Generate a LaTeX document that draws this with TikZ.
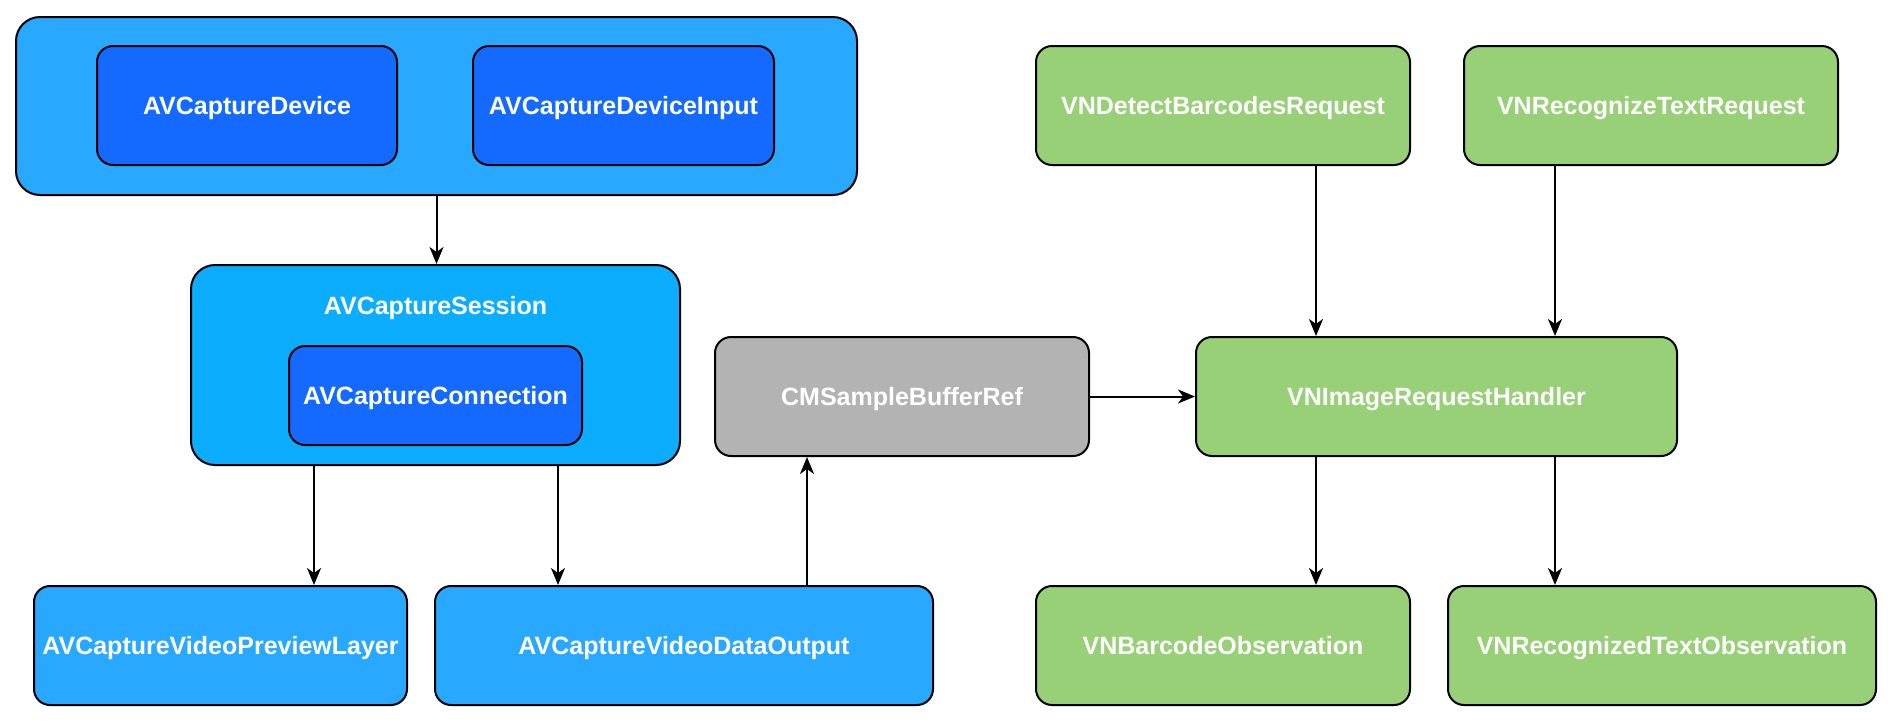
\documentclass[tikz,border=0pt]{standalone}
\usepackage{fontspec}
\setmainfont{Liberation Sans}
\usetikzlibrary{arrows.meta,calc}
\definecolor{outerblue}{HTML}{29A8FF}
\definecolor{sessblue}{HTML}{0CACFF}
\definecolor{innerblue}{HTML}{1469FF}
\definecolor{boxgray}{HTML}{B3B3B3}
\definecolor{boxgreen}{HTML}{97D077}
\tikzset{
  box/.style={draw=black, line width=2pt, rounded corners=16pt, inner sep=0pt,
    minimum height=119pt, text=white, text height=18pt, text depth=-2pt,
    font=\fontsize{25}{30}\selectfont\bfseries},
  bigbox/.style={box, rounded corners=24pt},
  arr/.style={line width=2pt, -{Stealth[length=17pt,width=14pt,inset=5pt]}},
  lbl/.style={text=white, font=\fontsize{25}{30}\selectfont\bfseries, inner sep=0pt,
    text height=18pt, text depth=-2pt}
}
\begin{document}
\begin{tikzpicture}[x=1pt,y=-1pt]
\useasboundingbox (0,0) rectangle (1898,724);
% top group
\node[bigbox, fill=outerblue, minimum width=841pt, minimum height=178pt] (top) at (436.5,106) {};
\node[box, fill=innerblue, minimum width=300pt] (dev) at (247,105.5) {AVCaptureDevice};
\node[box, fill=innerblue, minimum width=301pt] (devin) at (623.5,105.5) {AVCaptureDeviceInput};
% session
\node[bigbox, fill=sessblue, minimum width=489pt, minimum height=200pt] (session) at (435.5,365) {};
\node[lbl] (sesslbl) at (435.5,305) {AVCaptureSession};
\node[box, fill=innerblue, minimum width=293pt, minimum height=99pt] (conn) at (435.5,395.5) {AVCaptureConnection};
% bottom left
\node[box, fill=outerblue, minimum width=373pt] (preview) at (220.5,645.5) {AVCaptureVideoPreviewLayer};
\node[box, fill=outerblue, minimum width=498pt] (dataout) at (684,645.5) {AVCaptureVideoDataOutput};
% middle
\node[box, fill=boxgray, minimum width=374pt] (cms) at (902,396.5) {CMSampleBufferRef};
\node[box, fill=boxgreen, minimum width=481pt] (handler) at (1436.5,396.5) {VNImageRequestHandler};
% vision
\node[box, fill=boxgreen, minimum width=374pt] (detect) at (1223,105.5) {VNDetectBarcodesRequest};
\node[box, fill=boxgreen, minimum width=374pt] (rectext) at (1651,105.5) {VNRecognizeTextRequest};
\node[box, fill=boxgreen, minimum width=374pt] (barobs) at (1223,645.5) {VNBarcodeObservation};
\node[box, fill=boxgreen, minimum width=428pt] (rtobs) at (1662,645.5) {VNRecognizedTextObservation};
% connectors
\draw[arr] (top.south) -- (top.south |- session.north);
\draw[arr] ([xshift=-121.5pt]session.south) -- ([xshift=-121.5pt]session.south |- preview.north);
\draw[arr] ([xshift=122.5pt]session.south) -- ([xshift=122.5pt]session.south |- dataout.north);
\draw[arr] ([xshift=123pt]dataout.north) -- ([xshift=123pt]dataout.north |- cms.south);
\draw[arr] (cms.east) -- (handler.west);
\draw[arr] ([xshift=93pt]detect.south) -- ([xshift=93pt]detect.south |- handler.north);
\draw[arr] ([xshift=-96pt]rectext.south) -- ([xshift=-96pt]rectext.south |- handler.north);
\draw[arr] ([xshift=-120.5pt]handler.south) -- ([xshift=-120.5pt]handler.south |- barobs.north);
\draw[arr] ([xshift=118.5pt]handler.south) -- ([xshift=118.5pt]handler.south |- rtobs.north);
\end{tikzpicture}
\end{document}
